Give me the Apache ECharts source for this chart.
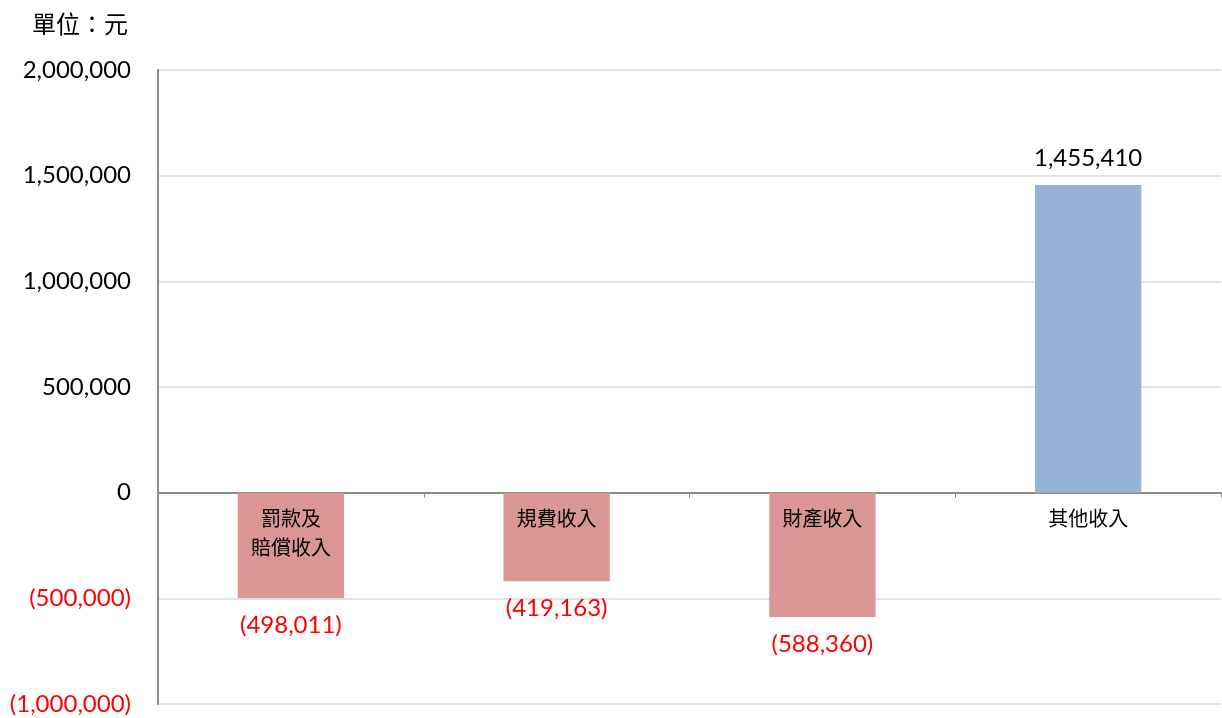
<!DOCTYPE html>
<html>
<head>
<meta charset="utf-8">
<script src="https://cdn.jsdelivr.net/npm/echarts@6/dist/echarts.min.js"></script>
<style>
  html, body { margin: 0; padding: 0; background: #fff; }
  #chart { width: 1222px; height: 718px; }
</style>
</head>
<body>
<div id="chart"></div>
<script>
var categories = ["罰款及\n賠償收入", "規費收入", "財產收入", "其他收入"];
var values = [-498011, -419163, -588360, 1455410];
var unitText = "單位：元";

function fmt(v) {
  var s = Math.abs(v).toLocaleString("en-US");
  return v < 0 ? "(" + s + ")" : s;
}

var myChart = echarts.init(document.getElementById("chart"));
var numFont = "Lato, 'Open Sans', sans-serif";
var cjkFont = "'Noto Sans CJK TC', sans-serif";

var option = {
  animation: false,
  title: {
    text: unitText,
    left: 27,
    top: 7,
    textStyle: { fontSize: 24, fontWeight: "normal", color: "#000", fontFamily: cjkFont }
  },
  grid: { left: 158, right: 1, top: 70, bottom: 14, containLabel: false },
  xAxis: {
    type: "category",
    data: categories,
    axisLine: { onZero: true, lineStyle: { color: "#8c8c8c", width: 2 } },
    axisTick: { show: true, length: 5, lineStyle: { color: "#8c8c8c" } },
    axisLabel: { show: false }
  },
  yAxis: {
    type: "value",
    min: -1000000,
    max: 2000000,
    interval: 500000,
    axisLine: { show: true, lineStyle: { color: "#8c8c8c", width: 2 } },
    axisTick: { show: false },
    splitLine: { lineStyle: { color: "#d9d9d9", width: 1.5 } },
    axisLabel: {
      margin: 27,
      fontSize: 24,
      fontFamily: numFont,
      color: function (v) { return v < 0 ? "#ff0000" : "#000"; },
      formatter: function (v) { return fmt(v); }
    }
  },
  series: [{
    type: "bar",
    barWidth: "40%",
    barGap: "-100%",
    z: 1,
    data: values.map(function (v) {
      return {
        value: v,
        itemStyle: { color: v < 0 ? "#d99694" : "#95b3d7" },
        label: {
          show: true,
          position: v < 0 ? "bottom" : "top",
          distance: v < 0 ? 15 : 15,
          color: v < 0 ? "#ff0000" : "#000",
          fontSize: 24,
          fontFamily: numFont,
          formatter: function (p) { return fmt(p.value); }
        }
      };
    })
  }, {
    // category names sit just under the zero line, over the bars
    type: "bar",
    barWidth: "40%",
    barGap: "-100%",
    z: 3,
    silent: true,
    itemStyle: { color: "transparent" },
    data: categories.map(function () { return 0; }),
    label: {
      show: true,
      position: "bottom",
      distance: 11,
      fontSize: 20,
      lineHeight: 29,
      color: "#000",
      fontFamily: cjkFont,
      formatter: function (p) { return categories[p.dataIndex]; }
    }
  }]
};
myChart.setOption(option, true);
</script>
</body>
</html>
